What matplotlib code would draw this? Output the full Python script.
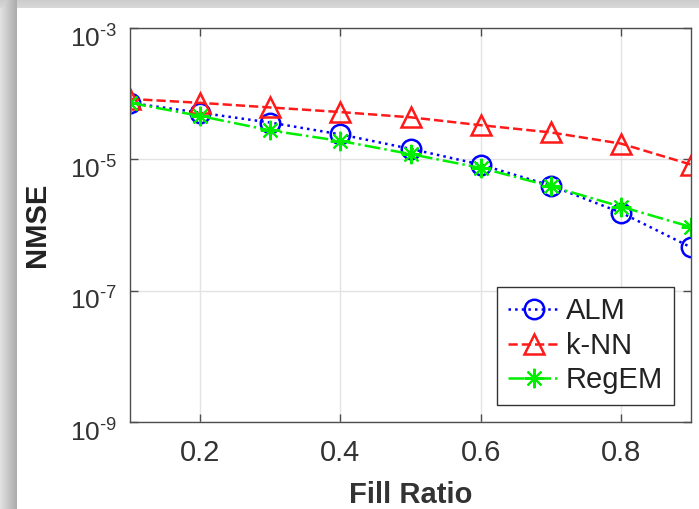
import numpy as np
import matplotlib
matplotlib.use("Agg")
import matplotlib.pyplot as plt
from matplotlib.ticker import FuncFormatter, NullLocator
from matplotlib.transforms import ScaledTranslation

plt.rcParams['font.family'] = ['Liberation Sans', 'DejaVu Sans']
plt.rcParams['mathtext.fontset'] = 'custom'
plt.rcParams['mathtext.rm'] = 'Liberation Sans'
plt.rcParams['mathtext.it'] = 'Liberation Sans'

# data (log10 of NMSE)
fill_ratio = [0.1, 0.2, 0.3, 0.4, 0.5, 0.6, 0.7, 0.8, 0.9]
alm_log = [-4.14, -4.29, -4.44, -4.62, -4.84, -5.08, -5.40, -5.81, -6.34]
knn_log = [-4.08, -4.14, -4.21, -4.28, -4.36, -4.48, -4.59, -4.76, -5.08]
regem_log = [-4.14, -4.34, -4.56, -4.72, -4.92, -5.13, -5.41, -5.72, -6.03]
x_ticks = [0.2, 0.4, 0.6, 0.8]
x_labels = ['0.2', '0.4', '0.6', '0.8']
y_ticks = [1e-9, 1e-7, 1e-5, 1e-3]

W, H = 699, 509
fig = plt.figure(figsize=(W / 100, H / 100), dpi=100)

# screenshot shadow around the figure
bg = fig.add_axes([0, 0, 1, 1], zorder=-5)
cols = np.arange(W)
rows = np.arange(H)
left_shade = np.where(cols < 17, 0.88 - 0.22 * cols / 17, 1.0)
top_shade = np.where(rows < 8, 0.80 + 0.05 * rows / 8, 1.0)
img = np.minimum(np.ones((H, W)) * left_shade[None, :], top_shade[:, None])
bg.imshow(img, cmap='gray', vmin=0, vmax=1, aspect='auto', interpolation='bilinear')
bg.axis('off')

ax = fig.add_axes([130 / W, 1 - 422 / H, (691 - 130) / W, (422 - 28) / H])

ax.plot(fill_ratio, 10.0 ** np.array(alm_log), color='#0000ff', linestyle=':', linewidth=1.8,
        marker='o', markersize=14, markerfacecolor='none', markeredgewidth=1.8, label='ALM')
ax.plot(fill_ratio, 10.0 ** np.array(knn_log), color='#ff1a1a', linestyle='--', linewidth=1.8,
        marker='^', markersize=15, markerfacecolor='none', markeredgewidth=1.8, label='k-NN')
ax.plot(fill_ratio, 10.0 ** np.array(regem_log), color='#00ee00', linestyle='-.', linewidth=1.8,
        marker=(8, 2, 0), markersize=14, markeredgewidth=1.5, label='RegEM')

ax.set_yscale('log')
ax.set_xlim(0.1, 0.9)
ax.set_ylim(1e-9, 1e-3)
ax.set_xticks(x_ticks)
ax.set_xticklabels(x_labels)
ax.set_yticks(y_ticks)
ax.yaxis.set_major_formatter(FuncFormatter(
    lambda v, p: r'$10^{\text{-}%d}$' % int(round(-np.log10(v)))))
ax.yaxis.set_minor_locator(NullLocator())
ax.xaxis.set_minor_locator(NullLocator())

ax.grid(True, color='#e3e3e3', linewidth=1.0)
ax.set_axisbelow(True)
for s in ax.spines.values():
    s.set_color('#4d4d4d')
    s.set_linewidth(1.0)
ax.tick_params(direction='in', length=6, width=1.0, colors='#4d4d4d', labelcolor='#333333',
               top=True, right=True)
ax.tick_params(axis='x', labelsize=21, pad=12)
ax.tick_params(axis='y', labelsize=19, pad=9)

# MATLAB puts the "10" a bit below the tick
shift = ScaledTranslation(0, -6 / 72, fig.dpi_scale_trans)
for lab in ax.get_yticklabels():
    lab.set_transform(lab.get_transform() + shift)

ax.set_xlabel('Fill Ratio', fontsize=21, fontweight='bold', color='#333333', labelpad=10)
ax.set_ylabel('NMSE', fontsize=21, fontweight='bold', color='#222222', labelpad=14)

leg = ax.legend(loc='lower right', fontsize=21, handlelength=1.8, handletextpad=0.2,
                borderpad=0.35, labelspacing=0.22, fancybox=False, framealpha=1,
                edgecolor='#333333', borderaxespad=0.6)
leg.get_frame().set_linewidth(1.0)
for t in leg.get_texts():
    t.set_color('#222222')

fig.savefig('out.png', dpi=100)
